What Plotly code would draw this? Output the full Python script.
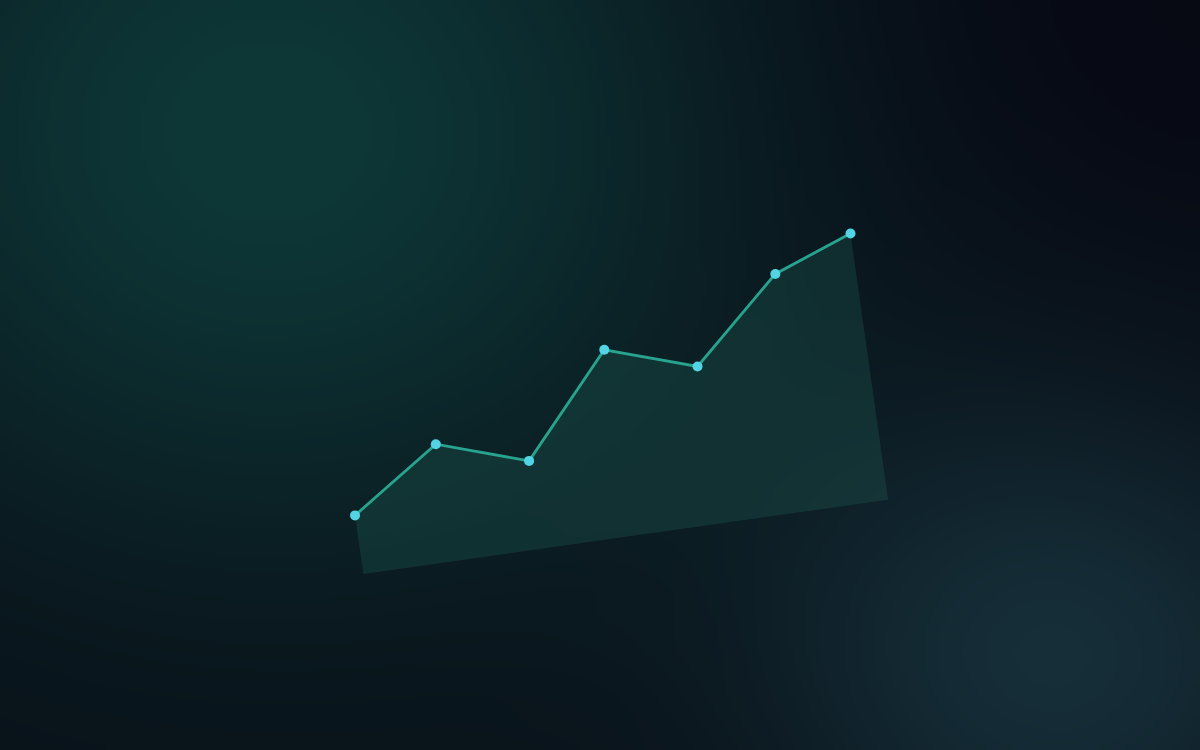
import base64, struct, zlib
import numpy as np
import plotly.graph_objects as go

# ---- data ----
x_pos = [0, 1, 2, 3, 4, 5, 5.89]          # category positions along the (tilted) x axis
values = [22, 44, 33, 70, 59, 89, 100]     # series values

# ---- geometry / style ----
W, H = 1200, 750
ORIGIN = (363.3, 574.0)   # screen position of the axis origin
ANGLE = np.deg2rad(8.05)  # chart tilt (counter-clockwise)
X_UNIT = 90.0             # px per category step
Y_UNIT = 2.69             # px per value unit
c, s = np.cos(ANGLE), np.sin(ANGLE)


def to_screen(xv, yv):
    xv = np.asarray(xv, float) * X_UNIT
    yv = np.asarray(yv, float) * Y_UNIT
    sx = ORIGIN[0] + xv * c - yv * s
    sy = ORIGIN[1] - xv * s - yv * c
    return sx, sy


# ---- background gradient image ----
def make_bg(w=300, h=188):
    xs = np.linspace(0, W, w)[None, :]
    ys = np.linspace(0, H, h)[:, None]
    img = np.zeros((h, w, 3)) + np.array([9, 16, 24], float)
    # teal glow top-left
    g1 = np.exp(-(((xs - 270) / 480) ** 2 + ((ys - 130) / 420) ** 2))
    img += g1[..., None] * np.array([5, 40, 32])
    # blue-ish glow bottom-right
    g2 = np.exp(-(((xs - 1060) / 300) ** 2 + ((ys - 660) / 260) ** 2))
    img += g2[..., None] * np.array([13, 30, 32])
    # darken top-right
    g3 = np.exp(-(((xs - 1150) / 420) ** 2 + ((ys - 0) / 300) ** 2))
    img -= g3[..., None] * np.array([2, 8, 5])
    img = np.clip(img, 0, 255).astype(np.uint8)
    raw = b"".join(b"\x00" + img[r].tobytes() for r in range(h))

    def chunk(t, d):
        return struct.pack(">I", len(d)) + t + d + struct.pack(">I", zlib.crc32(t + d) & 0xffffffff)

    png = b"\x89PNG\r\n\x1a\n" + chunk(b"IHDR", struct.pack(">IIBBBBB", w, h, 8, 2, 0, 0, 0)) \
        + chunk(b"IDAT", zlib.compress(raw, 9)) + chunk(b"IEND", b"")
    return "data:image/png;base64," + base64.b64encode(png).decode()


lx, ly = to_screen(x_pos, values)
bx, by = to_screen([x_pos[-1], x_pos[0]], [0, 0])

fig = go.Figure()
fig.add_trace(go.Scatter(
    x=list(lx) + list(bx), y=list(ly) + list(by),
    mode="lines", fill="toself", line=dict(width=0),
    fillcolor="rgba(30,92,84,0.32)", hoverinfo="skip", showlegend=False))
fig.add_trace(go.Scatter(
    x=lx, y=ly, mode="lines+markers",
    line=dict(color="#28a48e", width=2.8),
    marker=dict(color="#52d4e4", size=10, line=dict(width=0)),
    showlegend=False))

fig.update_layout(
    width=W, height=H,
    margin=dict(l=0, r=0, t=0, b=0),
    paper_bgcolor="#0b1820", plot_bgcolor="rgba(0,0,0,0)",
    xaxis=dict(range=[0, W], visible=False, fixedrange=True),
    yaxis=dict(range=[H, 0], visible=False, fixedrange=True),
    images=[dict(source=make_bg(), xref="paper", yref="paper", x=0, y=1,
                 sizex=1, sizey=1, xanchor="left", yanchor="top",
                 sizing="stretch", layer="below")],
)
fig.write_html(
    "out.html",
    config={"displayModeBar": False},
    post_script="document.body.style.margin='0';document.body.style.overflow='hidden';"
                "document.body.style.background='#0b1820';",
)
